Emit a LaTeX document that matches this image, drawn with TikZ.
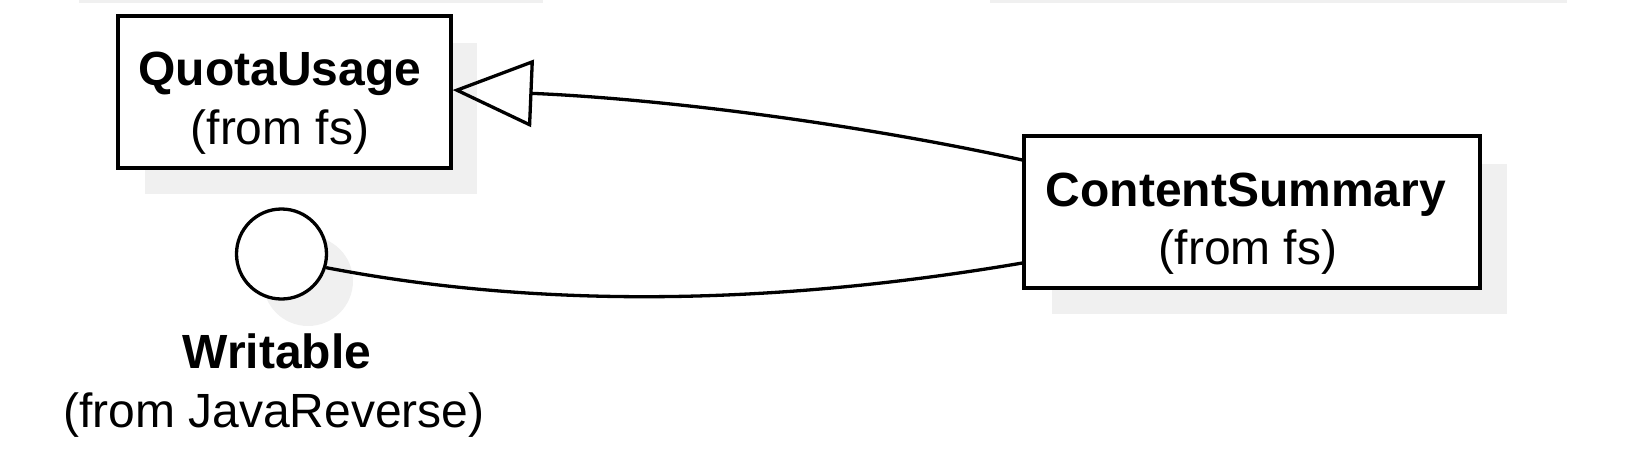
\documentclass[tikz,border=0pt]{standalone}
\usepackage{fontspec}
\setmainfont{Liberation Sans}
\usetikzlibrary{arrows.meta,calc}
\definecolor{shadowgray}{RGB}{240,240,240}
\begin{document}
\begin{tikzpicture}[x=1pt,y=-1pt,
  classbox/.style={draw=black,fill=white,line width=3.3pt,rectangle,inner sep=0pt},
  ifacecircle/.style={draw=black,fill=white,line width=3.3pt,circle,inner sep=0pt,minimum size=90pt},
  lbl/.style={anchor=base,inner sep=0pt,font=\fontsize{48pt}{58pt}\selectfont},
  lblb/.style={anchor=base,inner sep=0pt,font=\fontsize{48pt}{58pt}\selectfont\bfseries},
  conn/.style={line width=3.3pt,draw=black}]
\useasboundingbox (0,0) rectangle (1650,472);
% shadows
\fill[shadowgray] (79,0) rectangle (543,3);
\fill[shadowgray] (990,0) rectangle (1567,3);
\fill[shadowgray] (145,43) rectangle (477,194);
\fill[shadowgray] (1052,164) rectangle (1507,314);
\fill[shadowgray] (308,281) circle[radius=45];
% shapes
\node[classbox,minimum width=333pt,minimum height=152pt] (qu) at (284.5,92) {};
\node[classbox,minimum width=456pt,minimum height=152pt] (cs) at (1252,212) {};
\node[ifacecircle] (wr) at (281.5,254) {};
% labels
\node[lblb] (qut) at (280,85) {QuotaUsage};
\node[lbl] (quf) at (280,144) {(from fs)};
\node[lblb] (cst) at (1246,206) {ContentSummary};
\node[lbl] (csf) at (1248,264) {(from fs)};
\node[lblb] (wrt) at (277,368) {Writable};
\node[lbl] (wrf) at (274,427) {(from JavaReverse)};
% connector end points and quadratic control points
\coordinate (csu) at ([yshift=52pt]cs.west);
\coordinate (csl) at ([yshift=-51pt]cs.west);
\coordinate (quend) at ([yshift=2pt]qu.east);
\coordinate (wrend) at (wr.-17);
\coordinate (qa) at (760,103);
\coordinate (qb) at (640,328);
% connectors
\draw[conn,-{Triangle[open,length=80pt,width=67pt,line width=3.3pt]}]
  (csu) .. controls ($(csu)!0.6667!(qa)$) and ($(quend)!0.6667!(qa)$) .. (quend);
\draw[conn] (wrend) .. controls ($(wrend)!0.6667!(qb)$) and ($(csl)!0.6667!(qb)$) .. (csl);
\end{tikzpicture}
\end{document}
